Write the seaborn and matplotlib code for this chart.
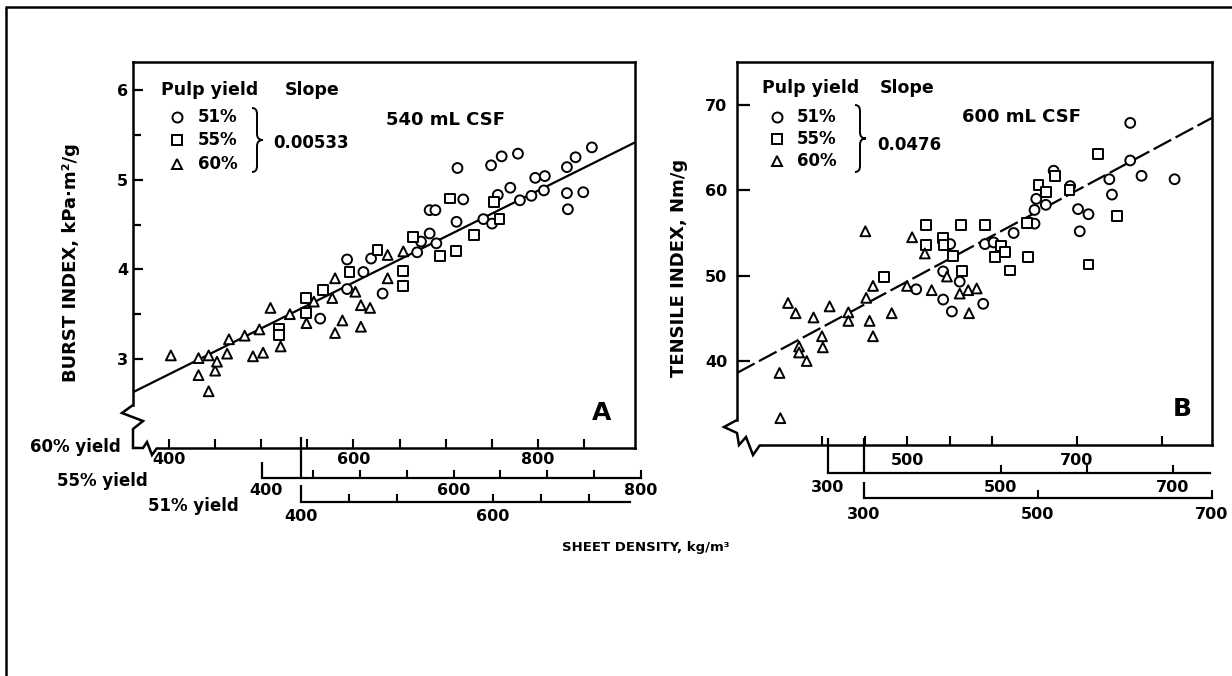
import numpy as np
import pandas as pd
import matplotlib.pyplot as plt
import seaborn as sns
from matplotlib.lines import Line2D
from matplotlib.path import Path
from matplotlib.patches import PathPatch
from matplotlib.transforms import Affine2D

sns.set_style("white")
plt.rcParams['font.family'] = ['DejaVu Sans']
plt.rcParams['font.weight'] = 'bold'
for key in ['text.color', 'axes.labelcolor', 'xtick.color', 'ytick.color', 'axes.edgecolor']:
    plt.rcParams[key] = 'black'

# ==========================================
# DATA (density is on each yield's own axis)
# ==========================================
YIELDS = ['51%', '55%', '60%']
MARKERS = {'51%': 'o', '55%': 's', '60%': '^'}

# Panel A - burst index, kPa.m2/g
a51_density = [420, 448, 448, 465, 473, 485, 521, 525, 534, 541, 534, 540,
               562, 563, 569, 590, 599, 598, 609, 626, 605, 618, 628, 640,
               644, 654, 653, 677, 686, 703, 677, 694, 678]
a51_burst = [3.45, 4.11, 3.78, 3.97, 4.12, 3.73, 4.19, 4.31, 4.40, 4.29, 4.66, 4.66,
             4.53, 5.13, 4.78, 4.56, 4.51, 5.16, 5.26, 5.29, 4.83, 4.91, 4.77, 4.82,
             5.02, 5.04, 4.88, 5.14, 5.25, 5.36, 4.85, 4.86, 4.67]
a55_density = [414, 414, 443, 443, 461, 489, 519, 546, 546, 557, 586, 603,
               622, 596, 643, 649]
a55_burst = [3.34, 3.27, 3.68, 3.51, 3.77, 3.97, 4.22, 3.98, 3.81, 4.36, 4.15, 4.20,
             4.38, 4.79, 4.75, 4.56]
a60_density = [402, 432, 432, 443, 443, 450, 465, 482, 498, 491, 502, 510, 521, 531,
               580, 577, 580, 588, 602, 608, 608, 618, 637, 637, 654, 549, 452, 463, 557]
a60_burst = [3.04, 3.01, 2.82, 3.04, 2.64, 2.87, 3.22, 3.26, 3.33, 3.03, 3.07, 3.57, 3.14, 3.50,
             3.90, 3.68, 3.29, 3.43, 3.75, 3.60, 3.36, 3.57, 4.16, 3.90, 4.20, 3.40, 2.97, 3.06, 3.64]
a_line_density = [361, 906]      # on the 60% yield axis
a_line_burst = [2.63, 5.42]
a_slope = "0.00533"
a_csf = "540 mL CSF"

# Panel B - tensile index, Nm/g
b51_density = [360, 391, 410, 391, 401, 437, 399, 439, 449, 472, 496, 496, 498,
               509, 518, 537, 546, 558, 548, 582, 585, 606, 606, 619, 657]
b51_tensile = [48.4, 50.5, 49.3, 47.2, 45.8, 46.7, 53.7, 53.7, 53.9, 55.0, 56.1, 57.7, 59.0,
               58.3, 62.3, 60.5, 57.8, 57.2, 55.2, 61.3, 59.5, 63.5, 67.9, 61.7, 61.3]
b55_density = [365, 414, 414, 433, 434, 445, 454, 455, 482, 494, 501, 505, 511,
               531, 532, 544, 553, 563, 580, 602, 613, 635]
b55_tensile = [49.8, 55.9, 53.6, 54.4, 53.6, 52.3, 55.9, 50.5, 55.9, 52.2, 53.5, 52.8, 50.6,
               56.2, 52.2, 60.6, 59.8, 61.7, 60.0, 51.3, 64.3, 57.0]
b60_density = [350, 351, 360, 369, 373, 373, 382, 390, 400, 401, 409, 431, 431, 451,
               452, 460, 456, 460, 482, 500, 506, 521, 529, 547, 562, 572, 582, 573]
b60_tensile = [38.6, 33.3, 46.8, 45.6, 41.7, 41.0, 40.0, 45.1, 42.9, 41.6, 46.4, 45.7, 44.7, 55.2,
               47.4, 48.8, 44.7, 42.9, 45.6, 48.8, 54.5, 52.6, 48.3, 49.9, 47.9, 48.3, 48.5, 45.6]
b_line_density = [300, 859]
b_line_tensile = [38.6, 68.5]
b_slope = "0.0476"
b_csf = "600 mL CSF"

# ==========================================
# LAYOUT (pixels of the 1232 x 676 picture, y down)
# ==========================================
W, H = 1232, 676

# (value, pixel) anchors of each density axis
A_AXES = {'60%': ((400, 169), (800, 538)),
          '55%': ((400, 266), (800, 641)),
          '51%': ((400, 301), (700, 589))}
B_AXES = {'60%': ((500, 907), (700, 1077)),
          '55%': ((300, 828), (700, 1173)),
          '51%': ((300, 864), (700, 1212))}


def lin(v, a, b):
    (v0, p0), (v1, p1) = a, b
    return p0 + (np.asarray(v, float) - v0) * (p1 - p0) / (v1 - v0)


def inv(p, a, b):
    (v0, p0), (v1, p1) = a, b
    return v0 + (np.asarray(p, float) - p0) * (v1 - v0) / (p1 - p0)


fig = plt.figure(figsize=(W / 100, H / 100), dpi=100)
pix = Affine2D().scale(1 / W, -1 / H).translate(0, 1) + fig.transFigure


def pline(pts, lw=1.6):
    xs, ys = zip(*pts)
    fig.add_artist(Line2D(xs, ys, transform=pix, color='black', lw=lw,
                          solid_joinstyle='miter', solid_capstyle='butt'))


def ptext(x, y, s, **kw):
    fig.text(x, y, s, transform=pix, color='black', **kw)


def brace(x0, x1, y0, y1):
    xm = (x0 + x1) / 2 - 0.5
    ym = (y0 + y1) / 2
    verts = [(x0, y0), (xm, y0), (xm, y0 + 6), (xm, ym - 6), (xm, ym), (x1, ym),
             (xm, ym), (xm, ym + 6), (xm, y1 - 6), (xm, y1), (x0, y1)]
    codes = [Path.MOVETO, Path.CURVE3, Path.CURVE3, Path.LINETO, Path.CURVE3, Path.CURVE3,
             Path.CURVE3, Path.CURVE3, Path.LINETO, Path.CURVE3, Path.CURVE3]
    fig.add_artist(PathPatch(Path(verts, codes), transform=pix, fill=False,
                             lw=1.4, edgecolor='black'))


def main_panel(box, xanch, yanch, spine_px, yticks, yminor, ylen, ypad,
               xlabels, xmarks, xpad):
    x0, x1, yt, yb = box
    ax = fig.add_axes([x0 / W, 1 - yb / H, (x1 - x0) / W, (yb - yt) / H])
    ax.patch.set_alpha(0)
    for s in ax.spines.values():
        s.set_linewidth(1.8)
        s.set_color('black')
    ax._lims = (inv([x0, x1], *xanch), inv([yb, yt], *yanch))
    lo_y = float(inv(spine_px[1], *yanch))
    lo_x = float(inv(spine_px[0], *xanch))
    ax.spines['left'].set_bounds(lo_y, ax._lims[1][1])
    ax.spines['bottom'].set_bounds(lo_x, ax._lims[0][1])
    ax.set_yticks(yticks)
    ax.set_yticks(yminor, minor=True)
    ax.tick_params(axis='y', which='major', direction='in', length=ylen, width=1.6,
                   pad=ypad, labelsize=11.5, left=True)
    ax.tick_params(axis='y', which='minor', direction='in', length=ylen - 1.5,
                   width=1.6, left=True)
    ax.xaxis.remove_overlapping_locs = False
    ax.set_xticks(xlabels)
    ax.set_xticks(xmarks, minor=True)
    ax.tick_params(axis='x', which='major', length=0, pad=xpad, labelsize=11.5, bottom=True)
    ax.tick_params(axis='x', which='minor', direction='in', length=6.5, width=1.5, bottom=True)
    return ax


def density_axis(py, anch, span, labels, marks, pad):
    xa, xb = span
    ax = fig.add_axes([(xa - 12) / W, 1 - py / H, (xb - xa + 24) / W, 0.0001])
    ax.patch.set_alpha(0)
    ax.set_xlim(inv(xa - 12, *anch), inv(xb + 12, *anch))
    for s in ['left', 'right', 'top']:
        ax.spines[s].set_visible(False)
    ax.spines['bottom'].set_linewidth(1.6)
    ax.spines['bottom'].set_color('black')
    ax.spines['bottom'].set_bounds(float(inv(xa, *anch)), float(inv(xb, *anch)))
    ax.set_yticks([])
    ax.xaxis.remove_overlapping_locs = False
    ax.set_xticks(labels)
    ax.set_xticks(marks, minor=True)
    ax.tick_params(axis='x', which='major', length=0, pad=pad, labelsize=11.5, bottom=True)
    ax.tick_params(axis='x', which='minor', direction='in', length=5.5, width=1.5, bottom=True)
    return ax


def panel_frame(series, axes):
    parts = []
    for lab, (dens, vals) in series.items():
        x60 = inv(lin(dens, *axes[lab]), *axes['60%'])
        parts.append(pd.DataFrame({'density': x60, 'index': vals, 'yield': lab}))
    return pd.concat(parts, ignore_index=True)


def draw_points(ax, df, line_x, line_y, dashed):
    style = (0, (9, 2.2)) if dashed else '-'
    sns.lineplot(x=line_x, y=line_y, ax=ax, color='black', lw=1.6,
                 linestyle=style, zorder=2)
    sns.scatterplot(data=df, x='density', y='index', style='yield', markers=MARKERS,
                    style_order=YIELDS, s=50, color='white', edgecolor='black',
                    linewidth=1.4, legend=False, ax=ax, zorder=3)
    ax.set_xlim(*ax._lims[0])
    ax.set_ylim(*ax._lims[1])
    ax.set_xlabel('')
    ax.set_ylabel('')


# ---------------- panel A ----------------
axA = main_panel((133, 635, 62, 448), A_AXES['60%'], ((3, 359), (6, 90)),
                 (157, 405), [3, 4, 5, 6], [3.5, 4.5, 5.5], 7.5, 3.6,
                 [400, 600, 800], np.arange(400, 851, 50), 3.2)
dfA = panel_frame({'51%': (a51_density, a51_burst),
                   '55%': (a55_density, a55_burst),
                   '60%': (a60_density, a60_burst)}, A_AXES)
draw_points(axA, dfA, a_line_density, a_line_burst, dashed=False)
density_axis(478, A_AXES['55%'], (262, 641), [400, 600, 800],
             np.arange(450, 801, 50), 3.6)
density_axis(502, A_AXES['51%'], (301, 630), [400, 600],
             [450, 500, 600, 650, 700], 5)

# ---------------- panel B ----------------
axB = main_panel((737, 1212, 62, 445), B_AXES['60%'], ((40, 361), (70, 105)),
                 (760, 420), [40, 50, 60, 70], [], 9, 7,
                 [500, 700], [400, 450, 500, 550, 600, 700, 800], 5.5)
dfB = panel_frame({'51%': (b51_density, b51_tensile),
                   '55%': (b55_density, b55_tensile),
                   '60%': (b60_density, b60_tensile)}, B_AXES)
draw_points(axB, dfB, b_line_density, b_line_tensile, dashed=True)
density_axis(473, B_AXES['55%'], (828, 1210), [300, 500, 700], [500, 600, 700], 5)
density_axis(498, B_AXES['51%'], (864, 1212), [300, 500, 700], [500, 700], 6.5)

# ---------------- axis breaks and connectors ----------------
pline([(133, 405), (122, 413), (143, 421), (133, 429), (133, 448), (143, 448),
       (147, 442), (152, 455), (157, 448)], lw=1.8)
pline([(262, 462), (262, 478)])
pline([(301, 437), (301, 477)])
pline([(301, 485), (301, 502)])
pline([(737, 420), (724, 427), (737, 433), (739, 445), (746, 437), (753, 455),
       (760, 445)], lw=1.8)
pline([(828, 438), (828, 473)])
pline([(864, 438), (864, 473)])
pline([(864, 482), (864, 498)])

# outer frame of the scan
pline([(5, 7), (1232, 7)], lw=1.8)
pline([(6, 7), (6, 676)], lw=1.8)

# ---------------- texts ----------------
ptext(71, 263, "BURST INDEX, kPa·m²/g", rotation=90, ha='center', va='center', fontsize=13)
ptext(679, 268, "TENSILE INDEX, Nm/g", rotation=90, ha='center', va='center', fontsize=13)


def legend_block(x_head, x_slope, y_head, x_mark, rows, x_txt, brace_box, x_val, y_val, slope):
    ptext(x_head, y_head, "Pulp yield", ha='left', va='center', fontsize=12.5)
    ptext(x_slope, y_head, "Slope", ha='left', va='center', fontsize=12.5)
    for lab, yy in zip(YIELDS, rows):
        fig.add_artist(Line2D([x_mark], [yy], transform=pix, marker=MARKERS[lab],
                              ms=7.2 if lab != '55%' else 6.5, mfc='white', mec='black',
                              mew=1.4, linestyle='none'))
        ptext(x_txt, yy, lab, ha='left', va='center', fontsize=12)
    brace(*brace_box)
    ptext(x_val, y_val, slope, ha='left', va='center', fontsize=12)


legend_block(161, 285, 90, 177, [117, 140, 164], 198, (252, 263, 108, 172), 273, 143, a_slope)
legend_block(762, 880, 88, 777, [117, 139, 161], 797, (855, 866, 105, 172), 877, 145, b_slope)

ptext(446, 120, a_csf, ha='center', va='center', fontsize=13)
ptext(1022, 117, b_csf, ha='center', va='center', fontsize=13)
ptext(602, 413, "A", ha='center', va='center', fontsize=18)
ptext(1182, 409, "B", ha='center', va='center', fontsize=18)

ptext(121, 447, "60% yield", ha='right', va='center', fontsize=12)
ptext(148, 481, "55% yield", ha='right', va='center', fontsize=12)
ptext(239, 506, "51% yield", ha='right', va='center', fontsize=12)
ptext(646, 548, "SHEET DENSITY, kg/m³", ha='center', va='center', fontsize=9.5)

fig.savefig("out.png", dpi=100)
